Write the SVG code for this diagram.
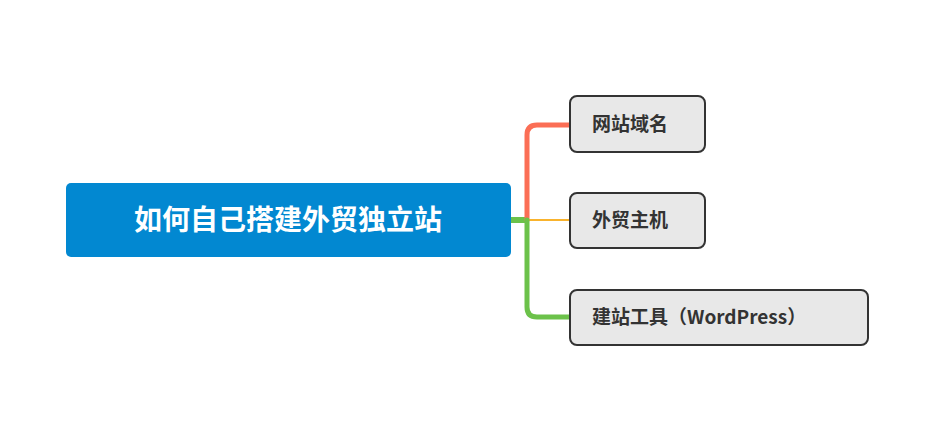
<svg xmlns="http://www.w3.org/2000/svg" width="940" height="435" viewBox="0 0 940 435">
<style>
.n rect{fill:#e8e8e8;stroke:#333;stroke-width:2}
.n text{font-family:"Noto Sans CJK SC",sans-serif;font-weight:bold;font-size:19px;fill:#333}
.c{fill:none;stroke-linecap:round}
</style>
<rect width="940" height="435" fill="#fff"/>
<g id="connectors">
<path class="c" d="M511 220 H526" stroke="#6cc24a" stroke-width="6"/>
<path class="c" d="M527 220 V135 Q527 125 537 125 H570" stroke="#fb6e55" stroke-width="5"/>
<path class="c" d="M529 220 H570" stroke="#f9b32d" stroke-width="2"/>
<path class="c" d="M527 220 V307 Q527 317 537 317 H570" stroke="#6cc24a" stroke-width="5"/>
</g>
<g id="root">
<rect x="66" y="183" width="445" height="74" rx="5" fill="#0288d1"/>
<text x="288" y="230" text-anchor="middle" font-family="Noto Sans CJK SC,sans-serif" font-weight="bold" font-size="28" fill="#fff">如何自己搭建外贸独立站</text>
</g>
<g id="n1" class="n"><rect x="570" y="96" width="135" height="56" rx="7"/><text x="592" y="131">网站域名</text></g>
<g id="n2" class="n"><rect x="570" y="193" width="135" height="55" rx="7"/><text x="592" y="227">外贸主机</text></g>
<g id="n3" class="n"><rect x="570" y="290" width="298" height="55" rx="7"/><text x="592" y="324">建站工具（WordPress）</text></g>
</svg>
